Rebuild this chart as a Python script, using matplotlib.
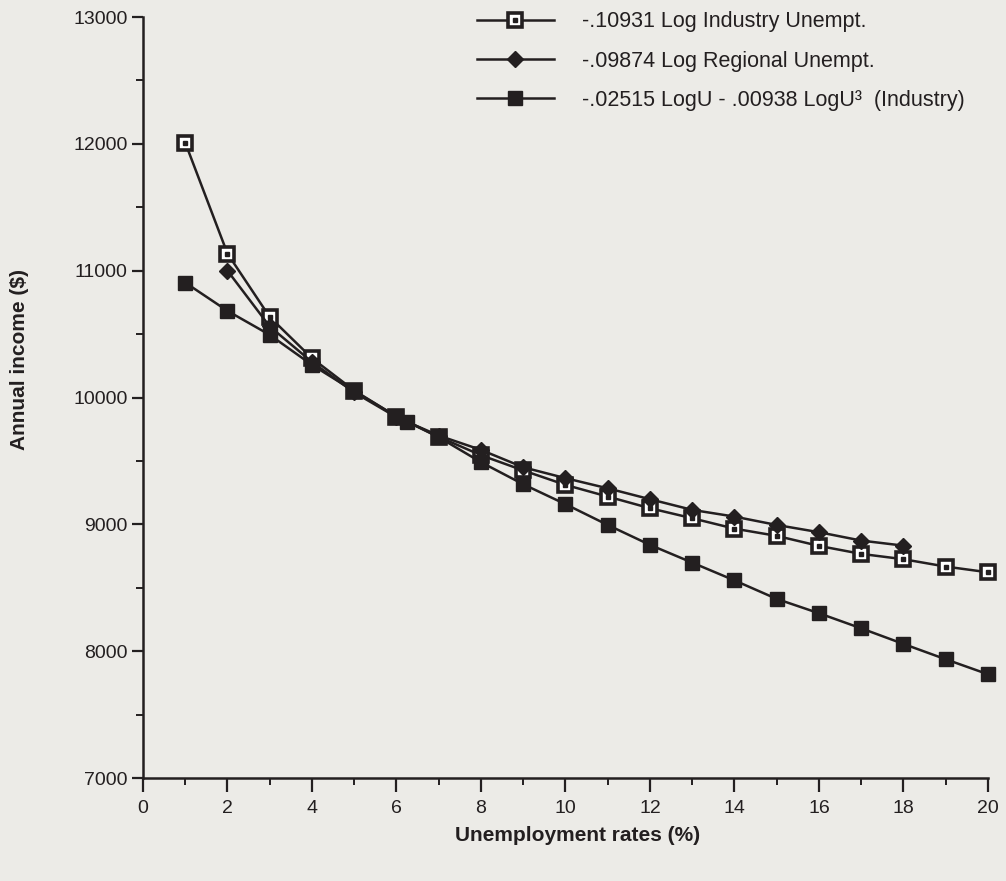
import matplotlib
matplotlib.use("Agg")
import matplotlib.pyplot as plt
from matplotlib.ticker import MultipleLocator
from matplotlib.legend_handler import HandlerTuple

plt.rcParams['font.family'] = ['Liberation Sans', 'DejaVu Sans']

# data
industry_x = list(range(1, 21))
industry_y = [12010, 11135, 10635, 10310, 10055, 9850, 9690, 9545, 9425, 9311,
              9219, 9127, 9048, 8966, 8909, 8830, 8767, 8725, 8667, 8622]

regional_x = list(range(2, 19))
regional_y = [11000, 10560, 10280, 10040, 9845, 9700, 9587, 9450, 9364,
              9284, 9198, 9114, 9061, 8995, 8938, 8872, 8832]

cubic_x = [1, 2, 3, 4, 5, 6, 6.25, 7, 8, 9, 10, 11, 12, 13, 14, 15, 16, 17, 18, 19, 20]
cubic_y = [10906, 10683, 10494, 10257, 10050, 9850, 9810, 9687, 9490, 9316,
           9159, 8995, 8838, 8698, 8558, 8412, 8299, 8180, 8057, 7936, 7818]

labels = ["-.10931 Log Industry Unempt.",
          "-.09874 Log Regional Unempt.",
          "-.02515 LogU - .00938 LogU³  (Industry)"]

ink = '#231f20'
paper = '#ecebe7'

fig = plt.figure(figsize=(10.06, 8.81), dpi=100, facecolor=paper)
ax = fig.add_axes([0.1421, 0.1169, 0.8400, 0.8638], facecolor=paper)

l1, = ax.plot(industry_x, industry_y, color=ink, lw=1.8, marker='s', ms=9.5,
              mfc='white', mec=ink, mew=2.6, zorder=3, clip_on=False)
d1, = ax.plot(industry_x, industry_y, ls='none', marker='s', ms=2.2,
              color=ink, zorder=4, clip_on=False)
l2, = ax.plot(regional_x, regional_y, color=ink, lw=1.8, marker='D', ms=8,
              mfc=ink, mec=ink, zorder=3)
l3, = ax.plot(cubic_x, cubic_y, color=ink, lw=1.8, marker='s', ms=10,
              mfc=ink, mec=ink, zorder=3, clip_on=False)

ax.set_xlim(0, 20)
ax.set_ylim(7000, 13000)
ax.xaxis.set_major_locator(MultipleLocator(2))
ax.xaxis.set_minor_locator(MultipleLocator(1))
ax.yaxis.set_major_locator(MultipleLocator(1000))
ax.yaxis.set_minor_locator(MultipleLocator(500))

for side in ['top', 'right']:
    ax.spines[side].set_visible(False)
for side in ['left', 'bottom']:
    ax.spines[side].set_color(ink)
    ax.spines[side].set_linewidth(1.8)

ax.tick_params(axis='x', which='major', length=10, width=1.6, color=ink,
               labelsize=14, pad=6, labelcolor=ink)
ax.tick_params(axis='x', which='minor', length=5, width=1.4, color=ink)
ax.tick_params(axis='y', which='major', length=8, width=1.6, color=ink,
               labelsize=14, pad=3, labelcolor=ink)
ax.tick_params(axis='y', which='minor', length=5, width=1.4, color=ink)

ax.set_xlabel("Unemployment rates (%)", fontsize=15, fontweight='bold', color=ink)
ax.set_ylabel("Annual income ($)", fontsize=15, fontweight='bold', color=ink)
ax.xaxis.set_label_coords(0.514, -0.063)
ax.yaxis.set_label_coords(-0.135, 0.55)

leg = ax.legend([(l1, d1), l2, l3], labels,
                handler_map={tuple: HandlerTuple(ndivide=1)},
                loc='upper left', bbox_to_anchor=(0.372, 1.033),
                frameon=False, fontsize=15.5, handlelength=3.6,
                handletextpad=1.3, labelspacing=0.85, labelcolor=ink)

fig.savefig("out.png", dpi=100, facecolor=paper)
